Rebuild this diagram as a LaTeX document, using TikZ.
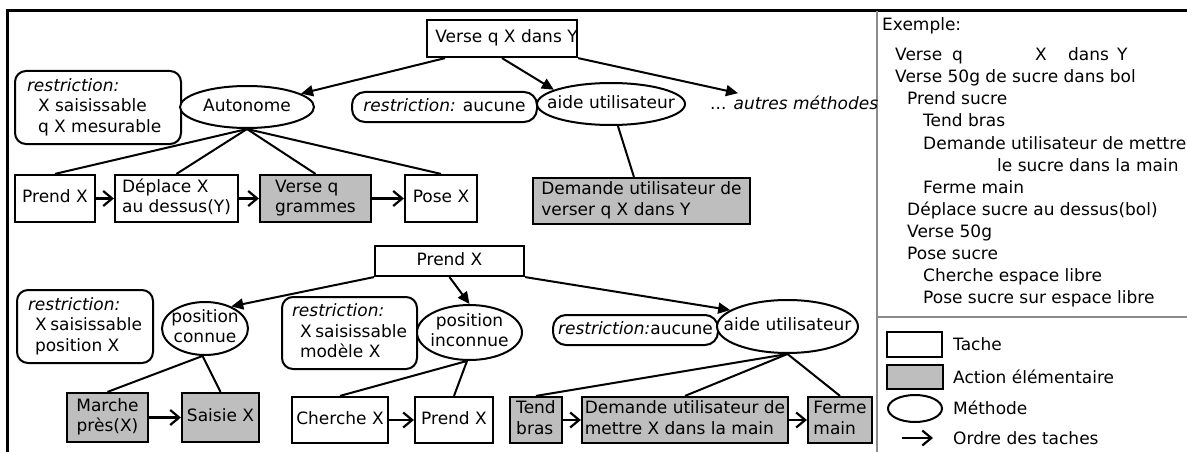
\documentclass[tikz,border=0pt]{standalone}
\usepackage{fontspec}
\setmainfont{DejaVu Sans}
\usetikzlibrary{arrows.meta,shapes.geometric}
\definecolor{actfill}{RGB}{190,190,190}
\definecolor{divgray}{RGB}{140,140,140}
\newcommand\zc[1]{\vbox to 0pt{\vss\hbox to 0pt{\hss\begin{tabular}{@{}c@{}}#1\end{tabular}\hss}\vss}}
\newcommand\zl[1]{\vbox to 0pt{\vss\hbox to 0pt{\hss\begin{tabular}{@{}l@{}}#1\end{tabular}\hss}\vss}}
\newcommand\zp[2]{\vbox to 0pt{\vss\hbox to 0pt{\hss\begin{tabular}{@{}p{#1}@{}}#2\end{tabular}\hss}\vss}}
\begin{document}
\begin{tikzpicture}[x=1pt,y=-1pt,font=\fontsize{17}{20.5}\selectfont,
  taskbox/.style={draw,line width=2.2pt,rectangle,inner sep=0pt,fill=white},
  actbox/.style={taskbox,fill=actfill},
  meth/.style={draw,line width=2pt,ellipse,inner sep=0pt,fill=white},
  restr/.style={draw,line width=2pt,rectangle,rounded corners=11pt,inner sep=0pt,fill=white},
  pill/.style={restr,rounded corners=13pt},
  tree/.style={line width=2pt,-{Triangle[length=12pt,width=11pt]}},
  seq/.style={line width=2.2pt,-{Straight Barb[length=9pt,width=15pt]}},
  link/.style={line width=2pt},
  lbl/.style={anchor=base west,inner sep=0pt},
]
\useasboundingbox (0,0) rectangle (1187,452);
% frame and dividers
\draw[line width=3pt] (7.5,452) -- (7.5,10.3) -- (1187,10.3);
\draw[divgray,line width=2pt] (876.5,11.5) -- (876.5,452);
\draw[divgray,line width=2pt] (876.5,317) -- (1187,317);

% ---------- top tree ----------
\node[taskbox,minimum width=150pt,minimum height=37pt] (verse) at (502,38.5) {\zc{\hspace*{9pt}Verse q X dans Y}};
\node[restr,minimum width=166pt,minimum height=73pt] (r1) at (98,107.5)
  {\zp{142pt}{\textit{restriction:}\\\hspace*{11pt}X saisissable\\\hspace*{11pt}q X mesurable}};
\node[meth,minimum width=134pt,minimum height=42pt] (aut) at (247,107) {\zc{Autonome}};
\node[pill,minimum width=185pt,minimum height=30pt] (r2) at (444.5,107) {\zc{\textit{restriction:} aucune}};
\node[meth,minimum width=148pt,minimum height=42pt] (aide1) at (611,104) {\zc{aide utilisateur}};
\node[lbl] (autres) at (710,110) {... \textit{autres méthodes}};
\node[actbox,minimum width=217pt,minimum height=46pt] (dem1) at (641.5,201) {\zl{Demande utilisateur de\\verser q X dans Y}};

\node[taskbox,minimum width=80pt,minimum height=47pt] (prend1) at (55,198.5) {\zc{Prend X}};
\node[taskbox,minimum width=123pt,minimum height=47pt] (depl) at (176.5,198.5) {\zl{Déplace X\\au dessus(Y)}};
\node[actbox,minimum width=111pt,minimum height=47pt] (versq) at (315.5,198.5) {\zl{Verse q\\grammes}};
\node[taskbox,minimum width=72pt,minimum height=47pt] (pose) at (441,198.5) {\zc{Pose X}};

\draw[tree] (verse.-161.4) -- (aut);
\draw[tree] (verse.south) -- (aide1.166);
\draw[tree] (verse.south east) -- ([xshift=28pt,yshift=3pt]autres.north west);
\draw[link] (aide1) -- (dem1);
\draw[link] (aut.south) -- (prend1.north);
\draw[link] (aut.south) -- (depl.north);
\draw[link] (aut.south) -- (versq.north);
\draw[link] (aut.south) -- (pose.north);
\draw[seq] (prend1) -- (depl);
\draw[seq] (depl) -- (versq);
\draw[seq] (versq) -- (pose);

% ---------- bottom tree ----------
\node[taskbox,minimum width=149pt,minimum height=30pt] (pk) at (449.5,261) {\zc{Prend X}};
\node[restr,minimum width=136pt,minimum height=73pt] (rc) at (85,326.5)
  {\zp{114pt}{\textit{restriction:}\\\hspace*{7pt}X saisissable\\\hspace*{7pt}position X}};
\node[meth,minimum width=86pt,minimum height=53pt] (pc) at (205,328.5) {\zc{position\\connue}};
\node[restr,minimum width=135pt,minimum height=72pt] (ri) at (349.5,333)
  {\zp{115pt}{\textit{restriction:}\\\hspace*{8pt}X saisissable\\\hspace*{8pt}modèle X}};
\node[meth,minimum width=105pt,minimum height=55pt] (pi) at (469.5,332.5) {\zc{position\\inconnue}};
\node[pill,minimum width=165pt,minimum height=30pt] (ra) at (635.5,330) {\zc{\textit{restriction:}aucune}};
\node[meth,minimum width=141pt,minimum height=53pt] (aide2) at (787.5,326.5) {\zc{aide utilisateur}};

\node[actbox,minimum width=81pt,minimum height=49pt] (marche) at (107.5,417.5) {\zc{Marche\\près(X)}};
\node[actbox,minimum width=77pt,minimum height=49pt] (saisie) at (220.5,417.5) {\zc{Saisie X}};
\node[taskbox,minimum width=96pt,minimum height=46pt] (cherche) at (340,420) {\zc{Cherche X}};
\node[taskbox,minimum width=78pt,minimum height=46pt] (prend2) at (454,420) {\zc{Prend X}};
\node[actbox,minimum width=52pt,minimum height=46pt] (tend) at (536,420) {\zl{Tend\\bras}};
\node[actbox,minimum width=206pt,minimum height=46pt] (dem2) at (685,420) {\zl{Demande utilisateur de\\mettre X dans la main}};
\node[actbox,minimum width=64pt,minimum height=46pt] (ferme) at (840,420) {\zl{Ferme\\main}};

\draw[tree] (pk.south west) -- (pc.40);
\draw[tree] (pk.south) -- (pi.north);
\draw[tree] (pk.south east) -- (aide2.164);
\draw[link] (pc.265) -- (marche.north);
\draw[link] (pc.265) -- (saisie.north);
\draw[link] (pi.265) -- (cherche.north);
\draw[link] (pi.265) -- (prend2.north);
\draw[link] (aide2.south) -- (tend.north);
\draw[link] (aide2.south) -- (dem2.north);
\draw[link] (aide2.south) -- (ferme.north);
\draw[seq] (marche) -- (saisie);
\draw[seq] (cherche) -- (prend2);
\draw[seq] (tend) -- (dem2);
\draw[seq] (dem2) -- (ferme);

% ---------- example panel ----------
\node[lbl] (ex0) at (882,31) {Exemple:};
\node[lbl] (ex1) at (895,61) {\makebox[57pt][l]{Verse}\makebox[83pt][l]{q}\makebox[33pt][l]{X}\makebox[49pt][l]{dans}Y};
\node[lbl] (ex2) at (895,83) {Verse 50g de sucre dans bol};
\node[lbl] (ex3) at (907,105) {Prend sucre};
\node[lbl] (ex4) at (923,127) {Tend bras};
\node[lbl] (ex5) at (923,149) {Demande utilisateur de mettre};
\node[lbl] (ex6) at (997,171) {le sucre dans la main};
\node[lbl] (ex7) at (923,193) {Ferme main};
\node[lbl] (ex8) at (907,215) {Déplace sucre au dessus(bol)};
\node[lbl] (ex9) at (907,237) {Verse 50g};
\node[lbl] (ex10) at (907,259) {Pose sucre};
\node[lbl] (ex11) at (923,281) {Cherche espace libre};
\node[lbl] (ex12) at (923,303) {Pose sucre sur espace libre};

% ---------- legend ----------
\node[taskbox,minimum width=55pt,minimum height=25pt] (lgT) at (914.5,344.5) {};
\node[lbl] (lgTt) at (953,350.5) {Tache};
\node[actbox,minimum width=56pt,minimum height=24pt] (lgA) at (915,377) {};
\node[lbl] (lgAt) at (953,383) {Action élémentaire};
\node[meth,minimum width=54pt,minimum height=27pt] (lgM) at (915,408.5) {};
\node[lbl] (lgMt) at (953,414) {Méthode};
\coordinate (la) at (902,438);
\coordinate (lb) at (933,438);
\draw[seq] (la) -- (lb);
\node[lbl] (lgOt) at (953,444) {Ordre des taches};
\end{tikzpicture}
\end{document}
